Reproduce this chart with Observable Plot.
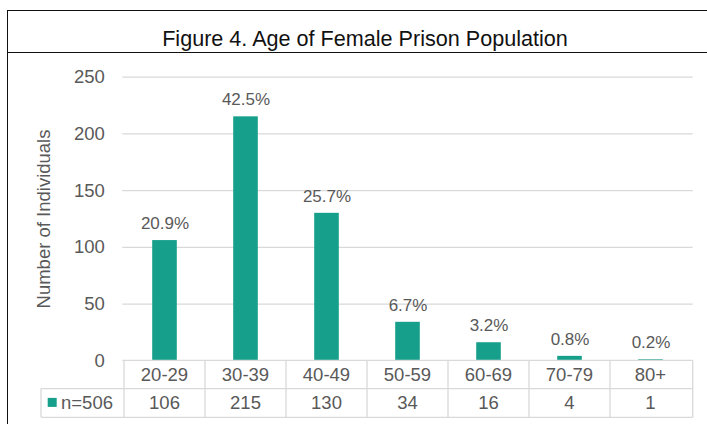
<!DOCTYPE html>
<html>
<head>
<meta charset="utf-8">
<script src="https://cdn.jsdelivr.net/npm/d3@7"></script>
<script src="https://cdn.jsdelivr.net/npm/@observablehq/plot@0.6"></script>
<style>
  html, body { margin: 0; padding: 0; background: #fff; }
  #wrap { position: relative; width: 707px; height: 424px; overflow: hidden; font-family: "Liberation Sans", Arial, sans-serif; }
  #chart { position: absolute; left: 0; top: 0; }
  #frame { position: absolute; left: 7px; top: 10px; width: 716px; height: 420px; border-left: 1.3px solid #111; border-top: 1.3px solid #111; box-sizing: border-box; pointer-events: none; }
  #title { position: absolute; left: 7px; top: 10px; width: 716px; height: 43px; border-bottom: 1.3px solid #111; box-sizing: border-box;
           font-size: 21.6px; color: #111; text-align: center; line-height: 58px; white-space: nowrap; }
</style>
</head>
<body>
<div id="wrap">
  <div id="chart"></div>
  <div id="frame"></div>
  <div id="title">Figure 4. Age of Female Prison Population</div>
</div>
<script>
// ---- data ----
const ages = ["20-29", "30-39", "40-49", "50-59", "60-69", "70-79", "80+"];
const counts = [106, 215, 130, 34, 16, 4, 1];
const pcts = ["20.9%", "42.5%", "25.7%", "6.7%", "3.2%", "0.8%", "0.2%"];
const yTicks = [0, 50, 100, 150, 200, 250];
const seriesLabel = "n=506";
const yLabel = "Number of Individuals";

const data = ages.map((a, i) => ({ age: a, count: counts[i], pct: pcts[i] }));
const teal = "#16a08b";
const grid = "#d9d9d9";
const textCol = "#595959";

const chart = Plot.plot({
  width: 707,
  height: 424,
  marginLeft: 122.3,
  marginRight: 14.3,
  marginTop: 76.6,
  marginBottom: 63.6,
  style: { fontFamily: "Liberation Sans, Arial, sans-serif", color: textCol, background: "transparent", overflow: "visible" },
  x: { domain: ages, padding: 0, axis: null },
  y: { domain: [0, 250], axis: null },
  marks: [
    Plot.ruleY(yTicks.slice(1), { stroke: grid, strokeWidth: 1.3 }),
    Plot.axisY({ ticks: yTicks, tickSize: 0, tickPadding: 18, fontSize: 18.5, label: null }),
    Plot.barY(data, { x: "age", y: "count", fill: teal, insetLeft: 28.2, insetRight: 28.2 }),
    Plot.text(data, { x: "age", y: "count", text: "pct", dy: -17, lineAnchor: "middle", fontSize: 17, fill: textCol }),
    Plot.text([yLabel], { frameAnchor: "left", textAnchor: "middle", dx: -79, dy: 0, rotate: -90, fontSize: 18.5, fill: textCol })
  ]
});
document.getElementById("chart").appendChild(chart);

// ---- data table under the plot, positioned from the Plot scales ----
const xs = chart.scale("x");
const ys = chart.scale("y");
const right = xs.range[1];
const left = xs.range[0];
const top0 = ys.apply(0);
const rowH = 28.2;
const legendLeft = 41;

const svg = d3.select(chart);
const g = svg.append("g").attr("font-family", "Liberation Sans, Arial, sans-serif").attr("text-anchor", "middle");
const line = (x1, x2, y1, y2) => g.append("line").attr("x1", x1).attr("x2", x2).attr("y1", y1).attr("y2", y2).attr("stroke", grid).attr("stroke-width", 1.3);

const bottom = top0 + 2 * rowH + 0.5;
line(left, right, top0, top0);
line(legendLeft, right, top0 + rowH, top0 + rowH);
line(legendLeft, right, bottom, bottom);
ages.map(a => xs.apply(a)).concat([right]).forEach(xv => line(xv, xv, top0, bottom));
line(legendLeft, legendLeft, top0 + rowH, bottom);

ages.forEach((a, i) => {
  const cx = xs.apply(a) + xs.bandwidth / 2;
  g.append("text").attr("x", cx).attr("y", top0 + rowH / 2).attr("dy", "0.35em")
    .attr("font-size", 18.5).attr("fill", textCol).text(a);
  g.append("text").attr("x", cx).attr("y", top0 + rowH * 1.5).attr("dy", "0.35em")
    .attr("font-size", 18.5).attr("fill", textCol).text(counts[i]);
});
g.append("rect").attr("x", legendLeft + 6.7).attr("y", top0 + rowH * 1.5 - 4.8).attr("width", 9).attr("height", 9).attr("fill", teal);
g.append("text").attr("x", legendLeft + 20).attr("y", top0 + rowH * 1.5).attr("dy", "0.35em").attr("text-anchor", "start")
  .attr("font-size", 18.5).attr("fill", textCol).text(seriesLabel);
</script>
</body>
</html>
